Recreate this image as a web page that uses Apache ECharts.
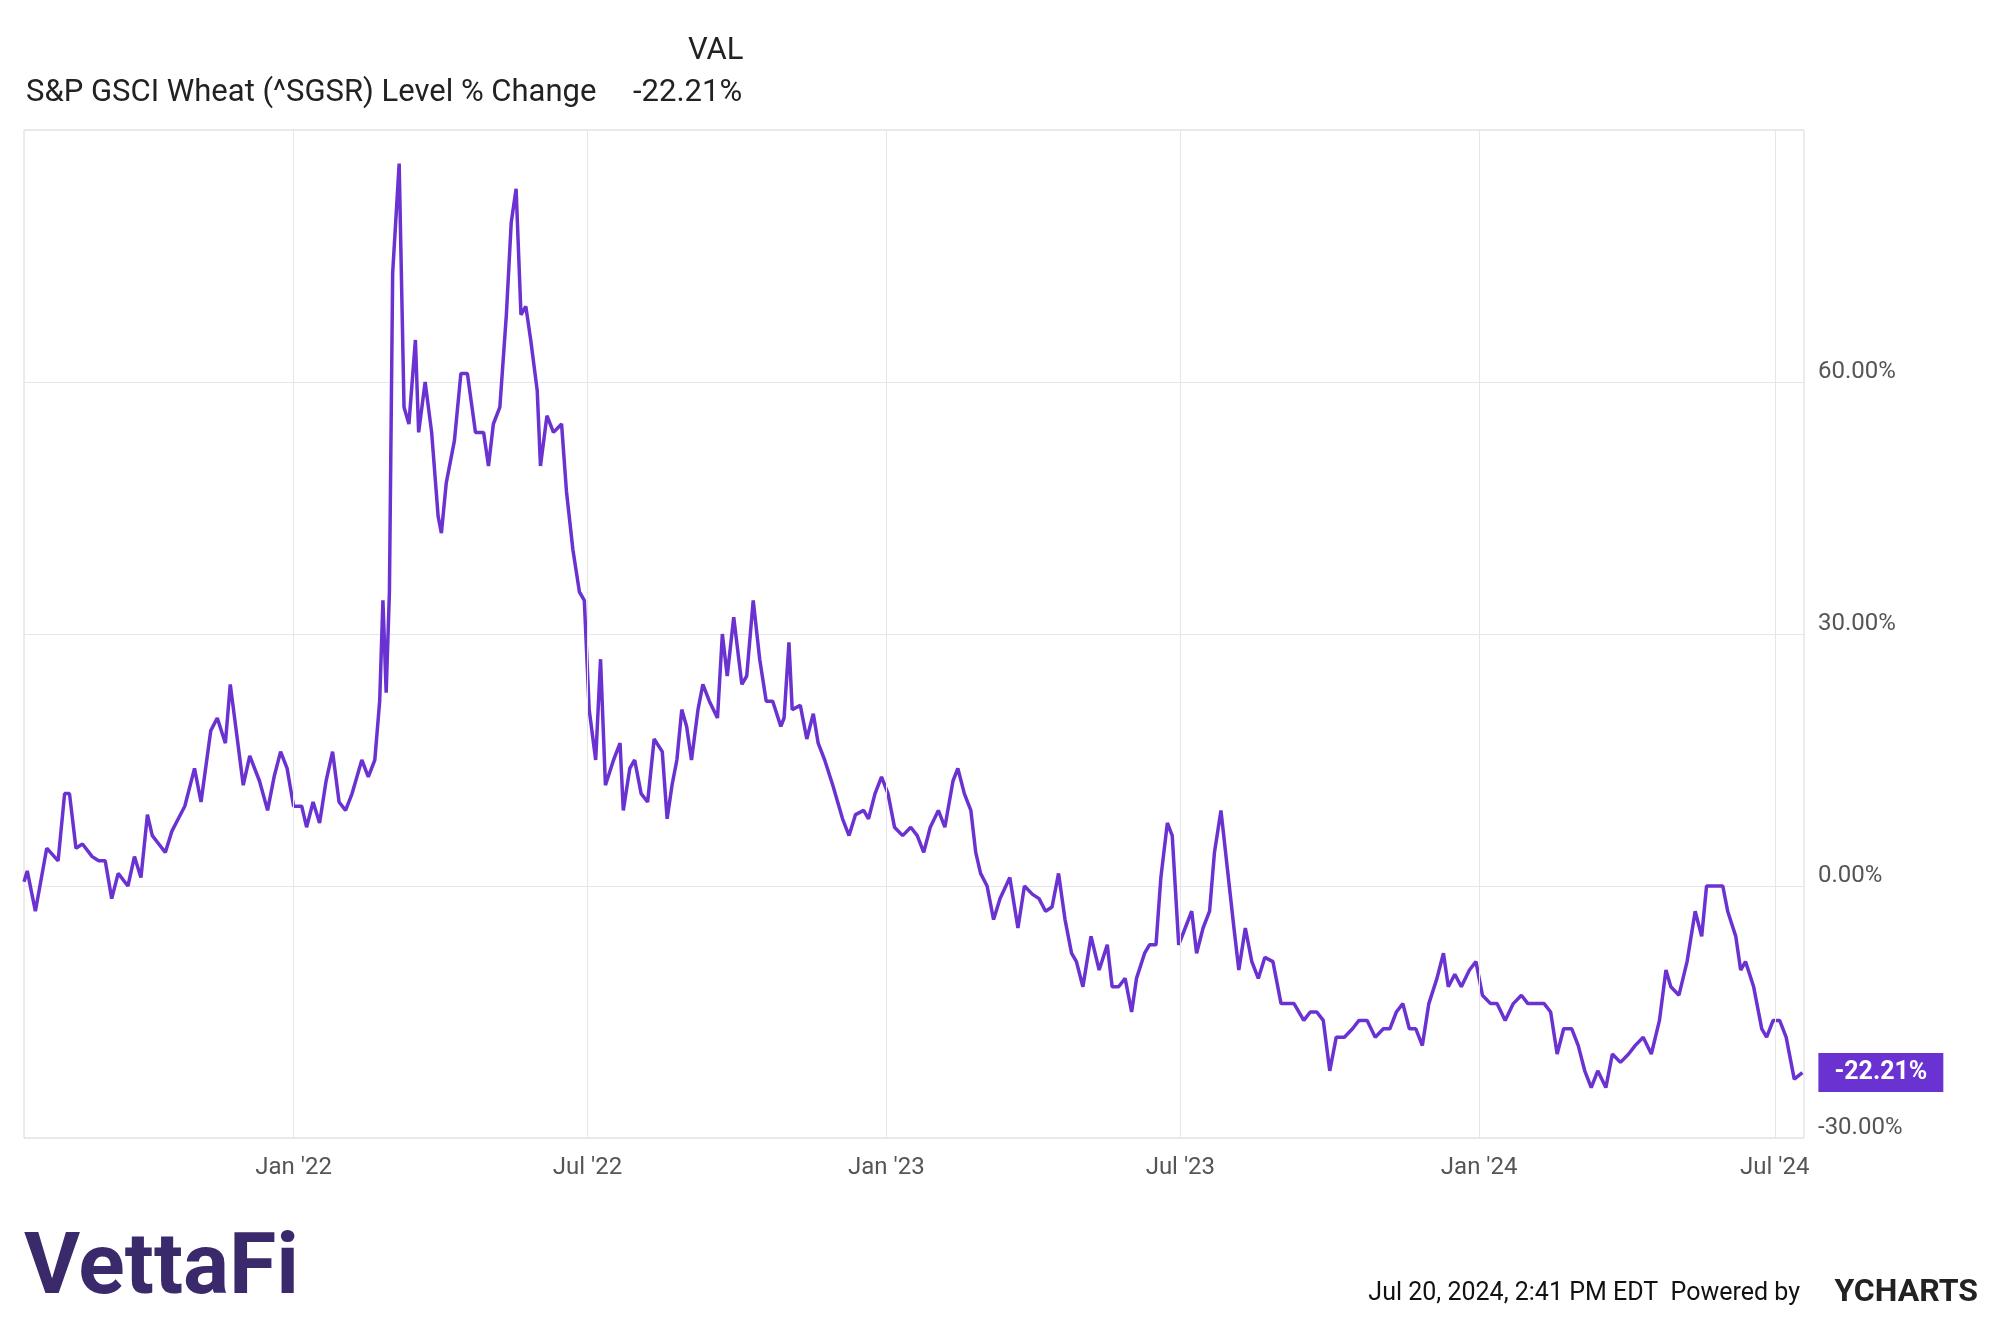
<!DOCTYPE html>
<html><head><meta charset="utf-8">
<script src="https://cdn.jsdelivr.net/npm/echarts@6/dist/echarts.min.js"></script>
<style>html,body{margin:0;padding:0;background:#fff}#c{width:2000px;height:1324px}</style>
</head><body><div id="c"></div>
<script>
const baseDate = [2021, 6, 19];
const dayOffsets = [0,2,7,14,21,25,28,32,36,42,46,50,54,58,64,68,72,76,79,83,87,91,95,99,105,109,115,119,124,127,131,135,139,145,150,154,158,162,166,171,174,178,182,186,190,194,198,202,208,212,216,219,221,223,225,227,231,234,237,241,243,247,251,255,257,260,265,269,273,278,283,286,289,293,297,300,303,306,309,312,316,318,322,326,331,334,338,342,345,348,352,355,358,363,367,369,373,376,380,384,388,393,396,399,402,405,408,411,415,418,422,427,430,433,437,442,445,449,453,457,461,466,468,471,473,478,482,486,489,493,498,501,504,508,512,517,520,524,528,532,536,541,546,550,554,558,563,567,572,575,579,583,586,589,593,597,601,607,612,616,621,625,629,633,637,641,645,648,652,657,662,667,670,674,678,682,685,690,693,697,700,704,707,711,715,719,722,726,730,733,737,741,745,748,752,756,760,764,769,774,778,782,788,792,796,800,804,808,813,818,822,827,832,837,841,845,849,853,857,861,865,870,874,877,881,885,890,894,898,903,907,912,917,922,926,931,936,940,944,948,953,957,961,965,969,974,978,983,988,992,997,1002,1007,1011,1014,1019,1024,1029,1033,1036,1041,1046,1049,1054,1057,1060,1065,1070,1073,1077,1081,1085,1090,1095];
const values = [0.5,1.8,-3,4.5,3,11,11,4.5,5,3.5,3,3,-1.5,1.5,0,3.5,1,8.5,6,5,4,6.5,8,9.5,14,10,18.5,20,17,24,18,12,15.5,12.5,9,13,16,14,9.5,9.5,7,10,7.5,12.5,16,10,9,11,15,13,15,22,34,23,35,73,86,57,55,65,54,60,54,44,42,48,53,61,61,54,54,50,55,57,68,79,83,68,69,65,59,50,56,54,55,47,40,35,34,21,15,27,12,15,17,9,14,15,11,10,17.5,16,8,12,15,21,19,15,21,24,22,20,30,25,32,24,25,34,27,22,22,19,20,29,21,21.5,17.5,20.5,17,15,12,10,8,6,8.5,9,8,11,13,11,7,6,7,6,4,7,9,7,12.5,14,11,9,4,1.5,0,-4,-1.5,1,-5,0,-1,-1.5,-3,-2.5,1.5,-4,-8,-9,-12,-6,-10,-7,-12,-12,-11,-15,-11,-8,-7,-7,1,7.5,6,-7,-5,-3,-8,-5,-3,4,9,2,-5,-10,-5,-9,-11,-8.5,-9,-14,-14,-14,-16,-15,-15,-16,-22,-18,-18,-17,-16,-16,-18,-17,-17,-15,-14,-17,-17,-19,-14,-11,-8,-12,-10.5,-12,-10,-9,-13,-14,-14,-16,-14,-13,-14,-14,-14,-15,-20,-17,-17,-19,-22,-24,-22,-24,-20,-21,-20,-19,-18,-20,-16,-10,-12,-13,-9,-3,-6,0,0,0,-3,-6,-10,-9,-12,-17,-18,-16,-16,-18,-23,-22.21];
const tickDates = ['2022-01-01','2022-07-01','2023-01-01','2023-07-01','2024-01-01','2024-07-01'];
const tickLabels = ["Jan '22","Jul '22","Jan '23","Jul '23","Jan '24","Jul '24"];
const yTicks = [-30,0,30,60];
const lastLabel = '-22.21%';

const DAY = 86400000;
const base = Date.UTC(baseDate[0], baseDate[1], baseDate[2]);
const data = dayOffsets.map((d,i)=>[base + d*DAY, values[i]]);
const tickTs = tickDates.map(s=>Date.parse(s+'T00:00:00Z'));
const purple = '#6b32d2';
const F = 'Roboto, "Liberation Sans", sans-serif';

const chart = echarts.init(document.getElementById('c'));
chart.setOption({
  animation:false,
  textStyle:{fontFamily:F},
  grid:{left:24,right:196,top:130,bottom:186,show:true,borderColor:'#d8d8d8',borderWidth:1},
  graphic:[
    {type:'text',left:26,top:78,style:{text:'S&P GSCI Wheat (^SGSR) Level % Change',fontSize:31,fill:'#222',fontFamily:F}},
    {type:'text',left:688,top:36,style:{text:'VAL',fontSize:31,fill:'#222',fontFamily:F}},
    {type:'text',left:633,top:78,style:{text:lastLabel,fontSize:31,fill:'#222',fontFamily:F}},
    {type:'text',left:24,top:1228,style:{text:'VettaFi',fontSize:86,fontWeight:'bold',fill:'#3b2a6b',fontFamily:F}},
    {type:'text',right:200,top:1281,style:{text:'Jul 20, 2024, 2:41 PM EDT  Powered by',fontSize:25,fill:'#111',fontFamily:F}},
    {type:'text',right:22,top:1277,style:{text:'YCHARTS',fontSize:32,fontWeight:'bold',fill:'#222',fontFamily:F}}
  ],
  xAxis:{type:'time',min:base,max:base+1096*DAY,
    axisLine:{show:false},axisTick:{show:false},splitLine:{show:false},axisLabel:{show:false}},
  yAxis:{type:'value',position:'right',min:-30,max:90,interval:30,
    axisLine:{show:false},axisTick:{show:false},
    splitLine:{lineStyle:{color:'#e6e6e6'}},
    axisLabel:{color:'#555',fontSize:24,margin:14,verticalAlign:'bottom',lineHeight:20,formatter:v=>yTicks.includes(v)?v.toFixed(2)+'%':''}},
  series:[{type:'line',data:data,showSymbol:false,lineStyle:{color:purple,width:3.5},itemStyle:{color:purple},
    markLine:{silent:true,symbol:'none',lineStyle:{color:'#e6e6e6',type:'solid',width:1},
      label:{show:true,position:'start',distance:18,color:'#555',fontSize:24,fontFamily:F},
      data:tickTs.map((t,i)=>({xAxis:t,label:{formatter:tickLabels[i]}}))},
    endLabel:{show:true,formatter:lastLabel,backgroundColor:purple,color:'#fff',fontSize:25,fontWeight:'bold',
      padding:[7,16,7,16],offset:[8,0]}
  }]
});
</script></body></html>
